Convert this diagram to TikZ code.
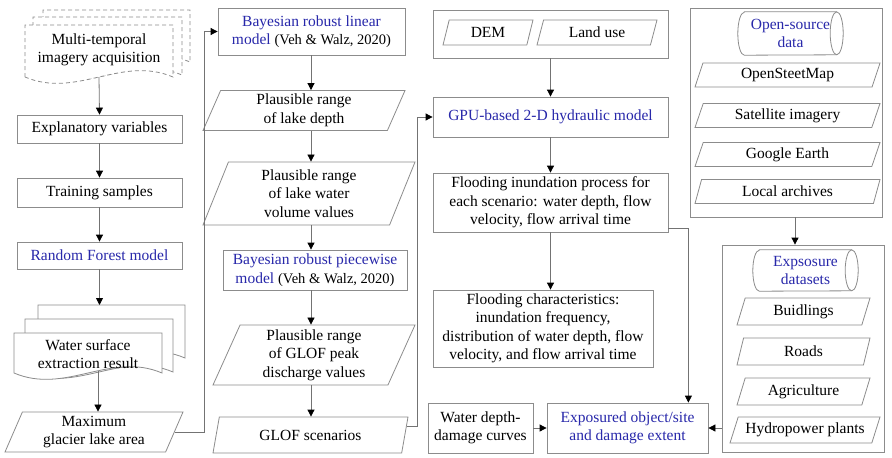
\documentclass[tikz,border=0pt]{standalone}
\usepackage{fontspec}
\setmainfont{Liberation Serif}
\usetikzlibrary{arrows.meta,
                shapes.geometric}
\definecolor{modelblue}{RGB}{40,40,170}
\definecolor{edgegray}{RGB}{140,140,140}
\newcommand{\wavydoc}[5][]{%
  \draw[#1] (#2,#5) -- (#2,#3) -- (#4,#3) -- (#4,#5)
    .. controls ({#4-0.35*(#4-#2)},{#5-22}) and ({#2+0.35*(#4-#2)},{#5+22}) .. (#2,#5) -- cycle;}
\newcommand{\cylframe}[2]{%
  \draw[edgegray,line width=0.8pt] ([xshift=6.5pt]#1.north west) -- ([xshift=-6.5pt]#1.north east)
    arc[start angle=90,end angle=-90,x radius=6.5pt,y radius=#2]
    -- ([xshift=6.5pt]#1.south west) arc[start angle=270,end angle=90,x radius=6.5pt,y radius=#2] -- cycle;
  \draw[edgegray,line width=0.8pt] ([xshift=-6.5pt]#1.north east)
    arc[start angle=90,end angle=270,x radius=6.5pt,y radius=#2];}

\begin{document}
\begin{tikzpicture}[x=1pt,y=-1pt,
  font=\fontsize{15.5}{18.5}\selectfont,
  every node/.style={align=center},
  box/.style={draw=edgegray,line width=0.8pt,fill=white,inner sep=2pt},
  datain/.style={trapezium,trapezium left angle=63,trapezium right angle=117,
    trapezium stretches body,draw=edgegray,line width=0.8pt,fill=white,inner sep=1pt},
  store/.style={text=modelblue,inner sep=1pt},
  model/.style={text=modelblue},
  arrow/.style={draw=black!55,line width=0.8pt,-{Triangle[color=black,length=7pt,width=7pt]}}]
 \useasboundingbox (0,0) rectangle (892,458);

 \wavydoc[edgegray,line width=0.8pt,dash pattern=on 4pt off 3pt,fill=white]{43}{10}{190}{62}
 \wavydoc[edgegray,line width=0.8pt,dash pattern=on 4pt off 3pt,fill=white]{33}{17}{182}{75}
 \wavydoc[edgegray,line width=0.8pt,dash pattern=on 4pt off 3pt,fill=white]{25}{25}{173}{77}
 \node (acq) at (99,50) {Multi-temporal\\imagery acquisition};
 \coordinate (acqbot) at (99,77);
 \node[box,minimum width=165pt,minimum height=28pt] (expl) at (99.5,129) {Explanatory variables};
 \node[box,minimum width=165pt,minimum height=29pt] (train) at (99.5,192.5) {Training samples};
 \node[box,model,minimum width=165pt,minimum height=27pt] (rf) at (99.5,255.5) {Random Forest model};
 \wavydoc[edgegray,line width=0.8pt,fill=white]{38}{305}{185}{358}
 \wavydoc[edgegray,line width=0.8pt,fill=white]{25}{319}{173}{372}
 \wavydoc[edgegray,line width=0.8pt,fill=white]{14}{333}{162}{373}
 \node (water) at (88,354) {Water surface\\extraction result};
 \coordinate (watertop) at (99.5,305);
 \coordinate (waterbot) at (98,371);
 \node[datain,minimum width=178pt,minimum height=40pt] (maxarea) at (94,432) {Maximum\\glacier lake area};

 \coordinate (colB) at (311,0);
 \node[box,minimum width=187pt,minimum height=47pt] (linear) at (311.5,31.5)
   {\textcolor{modelblue}{Bayesian robust linear}\\\textcolor{modelblue}{model} {\fontsize{14.5}{18.5}\selectfont(Veh \& Walz, 2020)}};
 \node[datain,minimum width=202pt,minimum height=40pt] (depth) at (304,110.5) {Plausible range\\of lake depth};
 \node[datain,minimum width=212pt,minimum height=63pt] (volume) at (309,193.5) {Plausible range\\of lake water\\volume values};
 \node[box,minimum width=184pt,minimum height=40pt] (piecewise) at (315,270)
   {\textcolor{modelblue}{Bayesian robust piecewise}\\\textcolor{modelblue}{model} {\fontsize{14.5}{18.5}\selectfont(Veh \& Walz, 2020)}};
 \node[datain,minimum width=202pt,minimum height=60pt] (peak) at (314,355) {Plausible range\\of GLOF peak\\discharge values};
 \node[datain,minimum width=195pt,minimum height=36pt] (scen) at (310.5,435) {GLOF scenarios};

 \node[box,minimum width=235pt,minimum height=48pt] (inputs) at (550.5,34) {};
 \node[datain,minimum width=90pt,minimum height=25pt] (dem) at (488,32.5) {DEM};
 \node[datain,minimum width=120pt,minimum height=25pt] (landuse) at (597,32.5) {Land use};
 \node[box,model,minimum width=235pt,minimum height=40pt] (gpu) at (550.5,117) {GPU-based 2-D hydraulic model};
 \node[box,minimum width=235pt,minimum height=59pt] (inund) at (550.5,202.5)
   {Flooding inundation process for\\each scenario: water depth, flow\\velocity, flow arrival time};
 \node[box,minimum width=220pt,minimum height=77pt] (charac) at (543,328.5)
   {Flooding characteristics:\\inundation frequency,\\distribution of water depth, flow\\velocity, and flow arrival time};
 \node[box,minimum width=105pt,minimum height=50pt] (curves) at (480.5,428) {Water depth-\\damage curves};
 \node[box,model,minimum width=161pt,minimum height=50pt] (expo) at (627.5,428) {Exposured object/site\\and damage extent};

 \node[box,minimum width=192pt,minimum height=209pt] (osgrp) at (786,112.5) {};
 \node[store,minimum width=105pt,minimum height=43pt] (oscyl) at (790.5,33.5) {Open-source\\data};
 \cylframe{oscyl}{21.5pt}
 \foreach \n/\y/\t in {osm/75/OpenSteetMap,sat/115.5/Satellite imagery,ge/154.5/Google Earth,arch/191.5/Local archives}
   \node[datain,minimum width=185pt,minimum height=24pt] (\n) at (787.5,\y) {\t};
 \node[box,minimum width=162pt,minimum height=207pt] (exgrp) at (803,348.5) {};
 \node[store,minimum width=105pt,minimum height=41pt] (excyl) at (805.5,270.5) {Expsosure\\datasets};
 \cylframe{excyl}{20.5pt}
 \foreach \n/\y/\t in {bld/311.5/Buidlings,roads/351.5/Roads,agri/391.5/Agriculture}
   \node[datain,minimum width=133pt,minimum height=27pt] (\n) at (803.5,\y) {\t};
 \node[datain,minimum width=150pt,minimum height=26pt] (hydro) at (805,430) {Hydropower plants};

 \draw[arrow] (acqbot) -- (expl.north);
 \draw[arrow] (expl) -- (train);
 \draw[arrow] (train) -- (rf);
 \draw[arrow] (rf.south) -- (watertop);
 \draw[arrow] (waterbot) -- (waterbot |- maxarea.north);
 \draw[arrow] (maxarea.east) -| ([xshift=-13pt]linear.west) -- (linear.west);
 \foreach \a/\b in {linear/depth,depth/volume,volume/piecewise,piecewise/peak,peak/scen}
   \draw[arrow] (\a.south -| colB) -- (\b.north -| colB);
 \draw[arrow] (scen.5) -| ([xshift=-15pt]gpu.west) -- (gpu.west);
 \draw[arrow] (inputs) -- (gpu);
 \draw[arrow] (gpu) -- (inund);
 \draw[arrow] (inund.south) -- (inund.south |- charac.north);
 \draw[arrow] ([yshift=4pt]inund.south east) -| ([xshift=-20pt]expo.north east);
 \draw[arrow] (curves) -- (expo);
 \draw[arrow] (exgrp.west |- expo.east) -- (expo.east);
 \draw[arrow] ([xshift=9pt]osgrp.south) -- ([xshift=9pt]osgrp.south |- exgrp.north);
\end{tikzpicture}
\end{document}
